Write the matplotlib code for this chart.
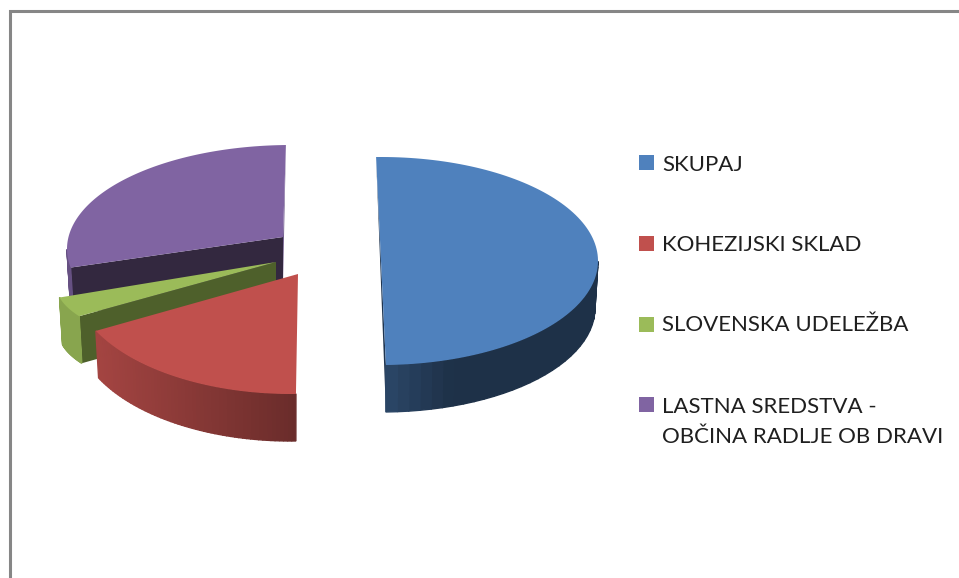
import matplotlib
matplotlib.use("Agg")
import matplotlib.pyplot as plt
import numpy as np

labels = ["SKUPAJ", "KOHEZIJSKI SKLAD", "SLOVENSKA UDELEŽBA",
          "LASTNA SREDSTVA -\nOBČINA RADLJE OB DRAVI"]
values = [50, 18, 4.5, 27.5]
colors = ["#4F81BD", "#C0504D", "#9BBB59", "#8064A2"]

# hand placed 3d look, in pixels
centers = [(381, 261), (291, 280), (276, 285), (291, 249)]
radii = [(217, 104), (218, 114), (220, 70), (224, 104)]
apexes = [(381, 261), (298, 274), (276, 262), (283, 237)]
depth = 47
start = 91.3

# darkening of the outer wall, by x
wall_x = [(386, 450), (98, 296), (60, 80), (60, 80)]
wall_k = [(0.55, 0.38), (0.85, 0.55), (0.88, 0.88), (0.8, 0.8)]
# cut face at the start of the slice
inner = [None, None, "#4E602B", "#33283F"]

fig = plt.figure(figsize=(9.59, 5.78), dpi=100)
ax = fig.add_axes([0, 0, 1, 1])
ax.set_xlim(0, 959)
ax.set_ylim(578, 0)
ax.axis("off")

ax.plot([9.5, 9.5, 959], [578, 10.5, 10.5], color="#868686", lw=2.2,
        solid_joinstyle="miter")


def arc(cx, cy, rx, ry, a1, a2, n=120):
    t = np.radians(np.linspace(a1, a2, n))
    return cx + rx * np.cos(t), cy - ry * np.sin(t)


# angles go clockwise from the top
angles = [start]
for v in values:
    angles.append(angles[-1] - v / sum(values) * 360)

for i in [3, 2, 1, 0]:
    a1, a2 = angles[i], angles[i + 1]
    cx, cy = centers[i]
    rx, ry = radii[i]
    px, py = apexes[i]
    x, y = arc(cx, cy, rx, ry, a1, a2)
    col = np.array(matplotlib.colors.to_rgb(colors[i]))

    if inner[i]:
        bx, by = arc(cx, cy, rx - 3, ry, a1, a1, 1)
        ax.fill([x[0], px, px, bx[0]], [y[0], py, py + depth, by[0] + depth],
                color=inner[i], lw=0, zorder=10 - i)

    # thin visible edge of the far cut faces
    if i == 0:
        ax.fill([x[0], x[-1], x[-1]], [y[0], y[-1], y[-1] + depth],
                color="#1F3550", lw=0, zorder=9.9)
    if i == 3:
        ax.fill([x[-1], px, px], [y[-1], py, py + depth],
                color="#6F5A8C", lw=0, zorder=6.9)

    # outer wall, only the front part of the rim shows
    wa = np.linspace(a1, a2, 60)
    wa = wa[wa % 360 >= 180]
    for a, b in zip(wa[:-1], wa[1:]):
        tx, ty = arc(cx, cy, rx, ry, a, b, 2)
        ux, uy = arc(cx, cy, rx - 3, ry, a, b, 2)
        k = np.interp(tx.mean(), wall_x[i], wall_k[i])
        ax.fill([tx[0], tx[1], ux[1], ux[0]],
                [ty[0], ty[1], uy[1] + depth, uy[0] + depth],
                color=col * k, lw=1, ec=col * k, zorder=10 - i)

    ax.fill(list(x) + [px], list(y) + [py], color=colors[i], lw=0, zorder=10.5 - i)

# legend
legend_y = [162.5, 243.5, 324.5, 404.5]
text_y = [171, 251, 331, 443]
for lab, col, ly, ty in zip(labels, colors, legend_y, text_y):
    ax.fill([638.5, 653.5, 653.5, 638.5], [ly - 7.5, ly - 7.5, ly + 7.5, ly + 7.5],
            color=col, lw=0)
    ax.text(662, ty, lab, family="Lato", fontsize=16, color="#1f1f1f",
            va="baseline", ha="left", linespacing=1.6)

fig.savefig("out.png", dpi=100)
